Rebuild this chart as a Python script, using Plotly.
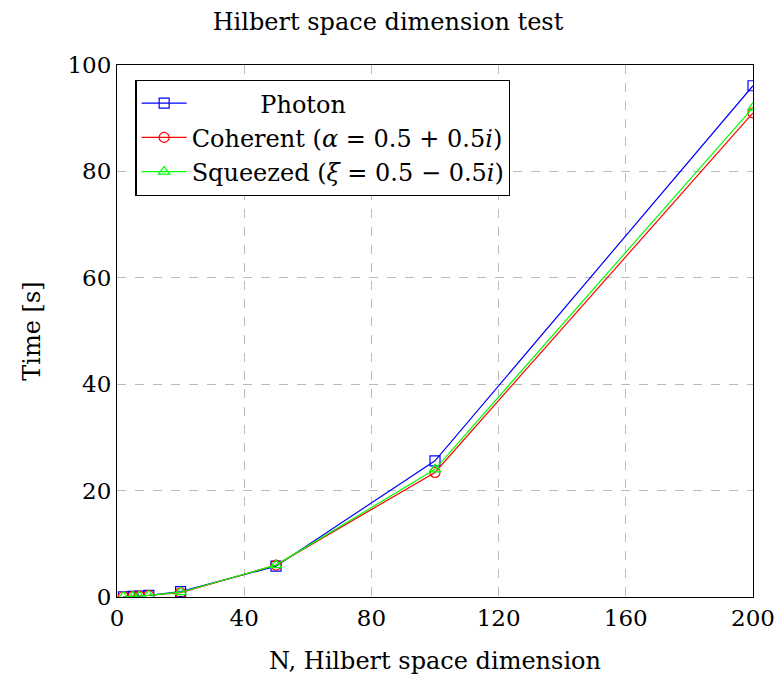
import plotly.graph_objects as go

N = [2, 5, 7, 10, 20, 50, 100, 200]
photon = [0.05, 0.1, 0.15, 0.3, 1.0, 5.8, 25.6, 96.1]
coherent = [0.05, 0.1, 0.15, 0.3, 0.8, 6.0, 23.4, 91.0]
squeezed = [0.05, 0.1, 0.15, 0.3, 0.9, 6.0, 24.0, 92.0]

names = ["\u00a0" * 9 + "Photon", "Coherent (<i>α</i> = 0.5 + 0.5<i>i</i>)", "Squeezed (<i>ξ</i> = 0.5 − 0.5<i>i</i>)"]
colors = ["#0000ff", "#ff0000", "#00ff00"]
symbols = ["square-open", "circle-open", "triangle-up-open"]

fig = go.Figure()
for y, name, c, s in zip([photon, coherent, squeezed], names, colors, symbols):
    fig.add_trace(go.Scatter(x=N, y=y, name=name, mode="lines+markers",
                             line=dict(color=c, width=1.2),
                             marker=dict(symbol=s, size=10, color=c, line=dict(width=1.2, color=c))))

font = "DejaVu Serif, Liberation Serif, serif"
fs = 24
tfs = 23
axis_common = dict(showline=True, linecolor="black", linewidth=1.2, mirror=True,
                   showgrid=True, gridcolor="#bbbbbb", griddash="dash", gridwidth=1,
                   ticks="", zeroline=False, automargin=False,
                   tickfont=dict(size=tfs, family=font, color="black"))
fig.update_layout(
    width=776, height=677,
    paper_bgcolor="white", plot_bgcolor="white",
    margin=dict(l=117, r=23, t=65, b=80),
    title=dict(text="Hilbert space dimension test", x=0.5, xanchor="center", y=0.968, yanchor="middle",
               font=dict(size=fs, family=font, color="black")),
    font=dict(family=font, color="black"),
    xaxis=dict(range=[0, 200], tickvals=[0, 40, 80, 120, 160, 200],
               title=dict(text="N, Hilbert space dimension", font=dict(size=fs, family=font), standoff=22),
               **axis_common),
    yaxis=dict(range=[0, 100], tickvals=[0, 20, 40, 60, 80, 100],
               title=dict(text="Time [s]", font=dict(size=fs, family=font), standoff=19),
               **axis_common),
    legend=dict(x=0.029, y=0.972, xanchor="left", yanchor="top",
                bgcolor="white", bordercolor="black", borderwidth=1.2,
                font=dict(size=fs, family=font, color="black"), tracegroupgap=0,
                itemwidth=45),
    showlegend=True,
)
fig.write_html("out.html")
